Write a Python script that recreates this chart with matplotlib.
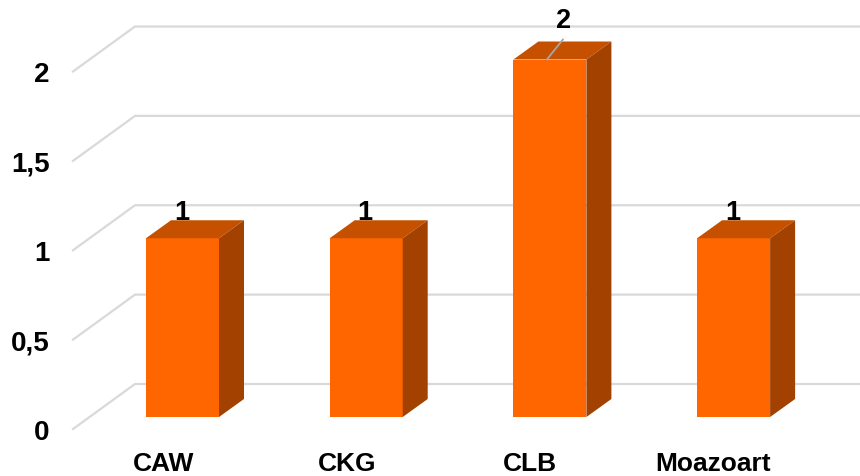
import matplotlib
matplotlib.use("Agg")

import matplotlib.pyplot as plt
from matplotlib.patches import Polygon

plt.rcParams["font.family"] = ["Liberation Sans", "DejaVu Sans"]

categories = ["CAW", "CKG", "CLB", "Moazoart"]
values = [1, 1, 2, 1]
tick_values = [0, 0.5, 1, 1.5, 2]
tick_labels = ["0", "0,5", "1", "1,5", "2"]

WIDTH, HEIGHT = 860, 477
PX_X = 183.7  # pixels per category
PX_Y = 178.75  # pixels per value unit
X0, Y0 = 182.5, 418.0  # pixel of first bar centre / value 0 on the bar front

FRONT = "#FF6600"
TOP = "#C55100"
SIDE = "#A34100"
GRID = "#D9D9D9"


def dx(px):
    return px / PX_X


def dy(px):
    return px / PX_Y


fig = plt.figure(figsize=(WIDTH / 100, HEIGHT / 100), dpi=100)
ax = fig.add_axes([0, 0, 1, 1])
ax.set_xlim(-X0 / PX_X, (WIDTH - X0) / PX_X)
ax.set_ylim((Y0 - HEIGHT) / PX_Y, Y0 / PX_Y)
ax.axis("off")

left = dx(73 - X0)
back = dx(135 - X0)

for value, label in zip(tick_values, tick_labels):
    # back wall and side wall gridlines
    ax.plot(
        [left, back, dx(WIDTH - X0)],
        [value - dy(12), value + dy(33), value + dy(33)],
        color=GRID,
        lw=1.6,
        solid_joinstyle="miter",
        zorder=1,
    )
    ax.text(
        dx(49.5 - X0),
        value - dy(15),
        label,
        ha="right",
        va="center",
        fontsize=20,
        fontweight="bold",
        color="black",
        zorder=5,
    )

half = dx(36.5)
depth_x = dx(25)
depth_y = dy(18)

for i, (name, value) in enumerate(zip(categories, values)):
    ax.bar(i, value, width=half * 2, color=FRONT, zorder=3)
    ax.add_patch(
        Polygon(
            [
                (i - half, value),
                (i + half, value),
                (i + half + depth_x, value + depth_y),
                (i - half + depth_x, value + depth_y),
            ],
            closed=True,
            facecolor=TOP,
            edgecolor="none",
            zorder=3,
        )
    )
    ax.add_patch(
        Polygon(
            [
                (i + half, 0),
                (i + half + depth_x, depth_y),
                (i + half + depth_x, value + depth_y),
                (i + half, value),
            ],
            closed=True,
            facecolor=SIDE,
            edgecolor="none",
            zorder=3,
        )
    )

    ax.text(
        i - dx(18.5 + 0.7 * i),
        -dy(46),
        name,
        ha="center",
        va="center",
        fontsize=19,
        fontweight="bold",
        color="black",
        zorder=5,
    )

    # the tallest bar's label sits above the chart with a leader line
    if value == max(values):
        ax.plot(
            [i - dx(3), i + dx(13)],
            [value, value + dy(20)],
            color="#A6A6A6",
            lw=1.3,
            zorder=4,
        )
        ax.text(
            i + dx(13.5),
            value + dy(39),
            str(value),
            ha="center",
            va="center",
            fontsize=19.5,
            fontweight="bold",
            color="black",
            zorder=5,
        )
    else:
        ax.text(
            i - dx(1),
            value + dy(26),
            str(value),
            ha="center",
            va="center",
            fontsize=19.5,
            fontweight="bold",
            color="black",
            zorder=5,
        )

fig.savefig("out.png", dpi=100)
